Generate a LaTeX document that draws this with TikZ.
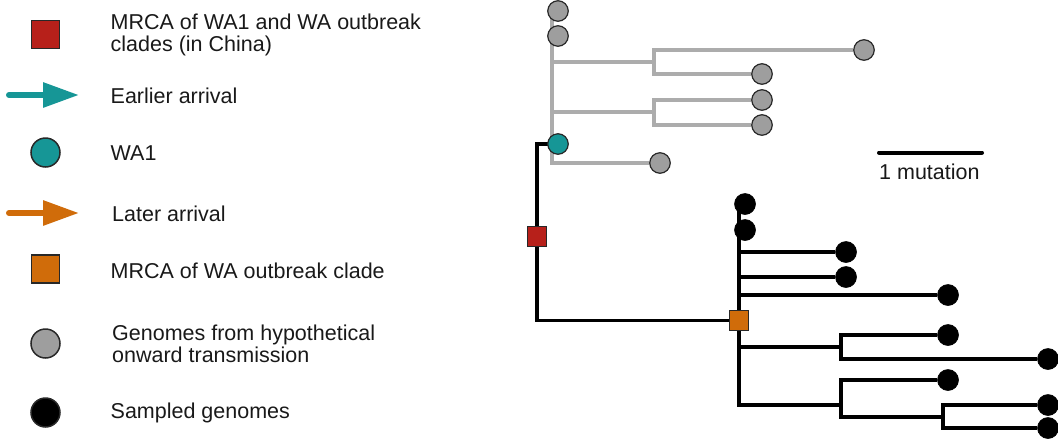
\documentclass[tikz,border=0pt]{standalone}
\usepackage{fontspec}
\setmainfont{Liberation Sans}
\usetikzlibrary{arrows.meta,backgrounds}
\definecolor{mred}{RGB}{183,32,26}
\definecolor{mteal}{RGB}{22,150,150}
\definecolor{morange}{RGB}{208,108,10}
\definecolor{tipgray}{RGB}{158,158,158}
\definecolor{lgray}{RGB}{172,172,172}
\definecolor{outl}{RGB}{40,40,40}
\tikzset{
  lab/.style={anchor=base west, inner sep=0pt, font=\fontsize{21.5}{24}\selectfont, text=black!90},
  gline/.style={draw=lgray, line width=3.4pt, line join=miter},
  bline/.style={draw=black, line width=3.8pt, line join=miter},
  gtip/.style={circle, fill=tipgray, draw=outl, line width=1.2pt, minimum size=20.5pt, inner sep=0pt},
  btip/.style={circle, fill=black, draw=black, line width=0.6pt, minimum size=21pt, inner sep=0pt},
  wtip/.style={circle, fill=mteal, draw=outl, line width=1.2pt, minimum size=20.5pt, inner sep=0pt},
  sqnode/.style={rectangle, draw=outl, line width=1.1pt, minimum size=19.5pt, inner sep=0pt},
  legsq/.style={rectangle, draw=outl, line width=1.5pt, minimum size=28pt, inner sep=0pt},
  legci/.style={circle, draw=outl, line width=1.5pt, minimum size=29pt, inner sep=0pt},
  legarrow/.style={line width=6pt, line cap=round, -{Triangle[length=36pt,width=24pt]}},
}
\begin{document}
\begin{tikzpicture}[x=1pt,y=-1pt]
\useasboundingbox (0,0) rectangle (1058,440);
% ---------- legend ----------
\node[legsq, fill=mred] (lsqred) at (45.5,34.5) {};
\node[lab] (l1a) at (110.5,29) {MRCA of WA1 and WA outbreak};
\node[lab] (l1b) at (110.5,51.5) {clades (in China)};
\coordinate (ta0) at (9,95);
\coordinate (ta1) at (79,95);
\draw[legarrow, draw=mteal, fill=mteal] (ta0) -- (ta1);
\node[lab] (l2) at (110.5,103) {Earlier arrival};
\node[legci, fill=mteal] (lcteal) at (45.5,152.5) {};
\node[lab] (l3) at (110.5,160) {WA1};
\coordinate (oa0) at (9,213);
\coordinate (oa1) at (79,213);
\draw[legarrow, draw=morange, fill=morange] (oa0) -- (oa1);
\node[lab] (l4) at (112,221) {Later arrival};
\node[legsq, fill=morange] (lsqor) at (45.5,269) {};
\node[lab] (l5) at (110.5,278) {MRCA of WA outbreak clade};
\node[legci, fill=tipgray] (lcgray) at (45.5,343.5) {};
\node[lab] (l6a) at (112,340) {Genomes from hypothetical};
\node[lab] (l6b) at (112,362.5) {onward transmission};
\node[legci, fill=black] (lcblack) at (45.5,412.5) {};
\node[lab] (l7) at (110.5,418) {Sampled genomes};
% ---------- scale bar ----------
\coordinate (sb0) at (879,152.5);
\coordinate (sb1) at (982,152.5);
\draw[line width=4pt, line cap=round] (sb0) -- (sb1);
\node[lab] (sbl) at (879,179) {1 mutation};
% ---------- gray clade ----------
\coordinate (gv0) at (552,11);
\coordinate (gv1) at (552,163);
\coordinate (gA0) at (552,62);
\coordinate (gA) at (654,62);
\coordinate (gB0) at (552,112);
\coordinate (gB) at (654,112);
\node[gtip] (g1) at (558,11) {};
\node[gtip] (g2) at (558,36) {};
\node[gtip] (g3) at (864,50) {};
\node[gtip] (g4) at (762,74) {};
\node[gtip] (g5) at (762,100) {};
\node[gtip] (g6) at (762,125) {};
\node[gtip] (g7) at (660,163) {};
\node[wtip] (wa1) at (558,144) {};
% ---------- black clade ----------
\coordinate (r0) at (537,144);
\coordinate (r1) at (537,320.5);
\node[sqnode, fill=mred] (mrcared) at (537,236.5) {};
\node[sqnode, fill=morange] (mrcaor) at (739,320.5) {};
\coordinate (bv0) at (739,204);
\coordinate (bv1) at (739,405);
\coordinate (b3) at (739,252);
\coordinate (b4) at (739,277);
\coordinate (b5) at (739,295);
\coordinate (bc10) at (739,347);
\coordinate (bc1) at (841,347);
\coordinate (bc2) at (841,405);
\coordinate (bc30) at (841,417);
\coordinate (bc3) at (943,417);
\node[btip] (k1) at (745,204) {};
\node[btip] (k2) at (745,230) {};
\node[btip] (k3) at (846,252) {};
\node[btip] (k4) at (846,277) {};
\node[btip] (k5) at (948,295) {};
\node[btip] (k6) at (948,335) {};
\node[btip] (k7) at (1048,359) {};
\node[btip] (k8) at (948,380) {};
\node[btip] (k9) at (1048,405) {};
\node[btip] (k10) at (1048,428) {};
\begin{scope}[on background layer]
  % gray
  \draw[gline] (gv0) -- (gv1) -- (g7);
  \draw[gline] (gA0) -- (gA);
  \draw[gline] (gA) |- (g3);
  \draw[gline] (gA) |- (g4);
  \draw[gline] (gB0) -- (gB);
  \draw[gline] (gB) |- (g5);
  \draw[gline] (gB) |- (g6);
  % black backbone
  \draw[bline] (wa1.center) -- (r0) -- (r1) -- (mrcaor.center);
  \draw[bline] (bv0) -- (bv1) -- (bc2);
  \draw[bline] (b3) -- (k3);
  \draw[bline] (b4) -- (k4);
  \draw[bline] (b5) -- (k5);
  \draw[bline] (bc10) -- (bc1);
  \draw[bline] (bc1) |- (k6);
  \draw[bline] (bc1) |- (k7);
  \draw[bline] (bc2) |- (k8);
  \draw[bline] (bc2) -- (bc30) -- (bc3);
  \draw[bline] (bc3) |- (k9);
  \draw[bline] (bc3) |- (k10);
\end{scope}
\end{tikzpicture}
\end{document}
